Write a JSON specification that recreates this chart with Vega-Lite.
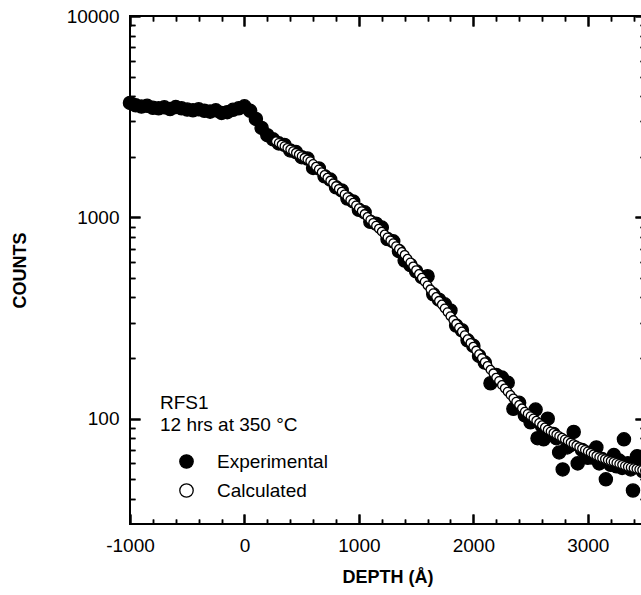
{
  "$schema": "https://vega.github.io/schema/vega-lite/v6.json",
  "autosize": {"type": "none"},
  "padding": {"left": 130, "top": 16, "right": 0, "bottom": 71},
  "width": 515,
  "height": 508,
  "background": "white",
  "config": {
    "font": "Liberation Sans",
    "view": {"stroke": "black", "strokeWidth": 2},
    "axis": {"grid": false, "domain": false, "labelColor": "black", "labelFontSize": 19, "labelFlush": false, "labelOverlap": false, "titleColor": "black"}
  },
  "datasets": {
    "profile": [
      {"series": "Experimental", "depth": -1000, "counts": 3700},
      {"series": "Experimental", "depth": -950, "counts": 3600},
      {"series": "Experimental", "depth": -900, "counts": 3550},
      {"series": "Experimental", "depth": -850, "counts": 3580},
      {"series": "Experimental", "depth": -800, "counts": 3500},
      {"series": "Experimental", "depth": -750, "counts": 3480},
      {"series": "Experimental", "depth": -700, "counts": 3520},
      {"series": "Experimental", "depth": -650, "counts": 3450},
      {"series": "Experimental", "depth": -600, "counts": 3530},
      {"series": "Experimental", "depth": -550, "counts": 3480},
      {"series": "Experimental", "depth": -500, "counts": 3430},
      {"series": "Experimental", "depth": -450, "counts": 3400},
      {"series": "Experimental", "depth": -400, "counts": 3440},
      {"series": "Experimental", "depth": -350, "counts": 3380},
      {"series": "Experimental", "depth": -300, "counts": 3350},
      {"series": "Experimental", "depth": -250, "counts": 3400},
      {"series": "Experimental", "depth": -200, "counts": 3300},
      {"series": "Experimental", "depth": -150, "counts": 3330},
      {"series": "Experimental", "depth": -100, "counts": 3420},
      {"series": "Experimental", "depth": -50, "counts": 3480},
      {"series": "Experimental", "depth": 0, "counts": 3560},
      {"series": "Experimental", "depth": 50, "counts": 3380},
      {"series": "Experimental", "depth": 100, "counts": 3080},
      {"series": "Experimental", "depth": 150, "counts": 2780},
      {"series": "Experimental", "depth": 200, "counts": 2560},
      {"series": "Experimental", "depth": 250, "counts": 2440},
      {"series": "Experimental", "depth": 300, "counts": 2330},
      {"series": "Experimental", "depth": 350, "counts": 2290},
      {"series": "Experimental", "depth": 400, "counts": 2150},
      {"series": "Experimental", "depth": 450, "counts": 2110},
      {"series": "Experimental", "depth": 500, "counts": 1990},
      {"series": "Experimental", "depth": 550, "counts": 1960},
      {"series": "Experimental", "depth": 600, "counts": 1760},
      {"series": "Experimental", "depth": 650, "counts": 1750},
      {"series": "Experimental", "depth": 700, "counts": 1600},
      {"series": "Experimental", "depth": 750, "counts": 1540},
      {"series": "Experimental", "depth": 800, "counts": 1410},
      {"series": "Experimental", "depth": 850, "counts": 1360},
      {"series": "Experimental", "depth": 900, "counts": 1240},
      {"series": "Experimental", "depth": 950, "counts": 1200},
      {"series": "Experimental", "depth": 1000, "counts": 1090},
      {"series": "Experimental", "depth": 1050, "counts": 1060},
      {"series": "Experimental", "depth": 1100, "counts": 950},
      {"series": "Experimental", "depth": 1150, "counts": 930},
      {"series": "Experimental", "depth": 1200, "counts": 890},
      {"series": "Experimental", "depth": 1250, "counts": 780},
      {"series": "Experimental", "depth": 1300, "counts": 760},
      {"series": "Experimental", "depth": 1350, "counts": 680},
      {"series": "Experimental", "depth": 1400, "counts": 610},
      {"series": "Experimental", "depth": 1450, "counts": 580},
      {"series": "Experimental", "depth": 1500, "counts": 540},
      {"series": "Experimental", "depth": 1550, "counts": 505},
      {"series": "Experimental", "depth": 1600, "counts": 510},
      {"series": "Experimental", "depth": 1650, "counts": 415},
      {"series": "Experimental", "depth": 1700, "counts": 390},
      {"series": "Experimental", "depth": 1750, "counts": 370},
      {"series": "Experimental", "depth": 1800, "counts": 345},
      {"series": "Experimental", "depth": 1850, "counts": 290},
      {"series": "Experimental", "depth": 1900, "counts": 275},
      {"series": "Experimental", "depth": 1950, "counts": 245},
      {"series": "Experimental", "depth": 2000, "counts": 230},
      {"series": "Experimental", "depth": 2050, "counts": 205},
      {"series": "Experimental", "depth": 2100, "counts": 190},
      {"series": "Experimental", "depth": 2150, "counts": 150},
      {"series": "Experimental", "depth": 2200, "counts": 165},
      {"series": "Experimental", "depth": 2250, "counts": 160},
      {"series": "Experimental", "depth": 2300, "counts": 151},
      {"series": "Experimental", "depth": 2350, "counts": 112},
      {"series": "Experimental", "depth": 2400, "counts": 120},
      {"series": "Experimental", "depth": 2450, "counts": 104},
      {"series": "Experimental", "depth": 2500, "counts": 96},
      {"series": "Experimental", "depth": 2544, "counts": 111},
      {"series": "Experimental", "depth": 2561, "counts": 80},
      {"series": "Experimental", "depth": 2600, "counts": 92},
      {"series": "Experimental", "depth": 2614, "counts": 79},
      {"series": "Experimental", "depth": 2650, "counts": 100},
      {"series": "Experimental", "depth": 2700, "counts": 84},
      {"series": "Experimental", "depth": 2725, "counts": 80},
      {"series": "Experimental", "depth": 2750, "counts": 68},
      {"series": "Experimental", "depth": 2781, "counts": 56},
      {"series": "Experimental", "depth": 2820, "counts": 72},
      {"series": "Experimental", "depth": 2850, "counts": 74},
      {"series": "Experimental", "depth": 2877, "counts": 86},
      {"series": "Experimental", "depth": 2912, "counts": 60},
      {"series": "Experimental", "depth": 2950, "counts": 70},
      {"series": "Experimental", "depth": 2975, "counts": 68},
      {"series": "Experimental", "depth": 3000, "counts": 64},
      {"series": "Experimental", "depth": 3026, "counts": 68},
      {"series": "Experimental", "depth": 3050, "counts": 64},
      {"series": "Experimental", "depth": 3075, "counts": 72},
      {"series": "Experimental", "depth": 3100, "counts": 60},
      {"series": "Experimental", "depth": 3125, "counts": 63},
      {"series": "Experimental", "depth": 3158, "counts": 50},
      {"series": "Experimental", "depth": 3200, "counts": 59},
      {"series": "Experimental", "depth": 3228, "counts": 66},
      {"series": "Experimental", "depth": 3250, "counts": 58},
      {"series": "Experimental", "depth": 3275, "counts": 62},
      {"series": "Experimental", "depth": 3300, "counts": 57},
      {"series": "Experimental", "depth": 3316, "counts": 79},
      {"series": "Experimental", "depth": 3350, "counts": 60},
      {"series": "Experimental", "depth": 3375, "counts": 56},
      {"series": "Experimental", "depth": 3395, "counts": 44},
      {"series": "Experimental", "depth": 3430, "counts": 65},
      {"series": "Experimental", "depth": 3460, "counts": 58},
      {"series": "Experimental", "depth": 3480, "counts": 55},
      {"series": "Calculated", "depth": 275, "counts": 2388},
      {"series": "Calculated", "depth": 300, "counts": 2343},
      {"series": "Calculated", "depth": 325, "counts": 2299},
      {"series": "Calculated", "depth": 350, "counts": 2256},
      {"series": "Calculated", "depth": 375, "counts": 2213},
      {"series": "Calculated", "depth": 400, "counts": 2172},
      {"series": "Calculated", "depth": 425, "counts": 2131},
      {"series": "Calculated", "depth": 450, "counts": 2091},
      {"series": "Calculated", "depth": 475, "counts": 2051},
      {"series": "Calculated", "depth": 500, "counts": 2013},
      {"series": "Calculated", "depth": 525, "counts": 1975},
      {"series": "Calculated", "depth": 550, "counts": 1938},
      {"series": "Calculated", "depth": 575, "counts": 1901},
      {"series": "Calculated", "depth": 600, "counts": 1842},
      {"series": "Calculated", "depth": 625, "counts": 1784},
      {"series": "Calculated", "depth": 650, "counts": 1729},
      {"series": "Calculated", "depth": 675, "counts": 1675},
      {"series": "Calculated", "depth": 700, "counts": 1623},
      {"series": "Calculated", "depth": 725, "counts": 1572},
      {"series": "Calculated", "depth": 750, "counts": 1523},
      {"series": "Calculated", "depth": 775, "counts": 1476},
      {"series": "Calculated", "depth": 800, "counts": 1430},
      {"series": "Calculated", "depth": 825, "counts": 1385},
      {"series": "Calculated", "depth": 850, "counts": 1342},
      {"series": "Calculated", "depth": 875, "counts": 1300},
      {"series": "Calculated", "depth": 900, "counts": 1260},
      {"series": "Calculated", "depth": 925, "counts": 1220},
      {"series": "Calculated", "depth": 950, "counts": 1182},
      {"series": "Calculated", "depth": 975, "counts": 1146},
      {"series": "Calculated", "depth": 1000, "counts": 1110},
      {"series": "Calculated", "depth": 1025, "counts": 1074},
      {"series": "Calculated", "depth": 1050, "counts": 1038},
      {"series": "Calculated", "depth": 1075, "counts": 1004},
      {"series": "Calculated", "depth": 1100, "counts": 971},
      {"series": "Calculated", "depth": 1125, "counts": 939},
      {"series": "Calculated", "depth": 1150, "counts": 909},
      {"series": "Calculated", "depth": 1175, "counts": 879},
      {"series": "Calculated", "depth": 1200, "counts": 850},
      {"series": "Calculated", "depth": 1225, "counts": 822},
      {"series": "Calculated", "depth": 1250, "counts": 795},
      {"series": "Calculated", "depth": 1275, "counts": 769},
      {"series": "Calculated", "depth": 1300, "counts": 744},
      {"series": "Calculated", "depth": 1325, "counts": 719},
      {"series": "Calculated", "depth": 1350, "counts": 696},
      {"series": "Calculated", "depth": 1375, "counts": 673},
      {"series": "Calculated", "depth": 1400, "counts": 651},
      {"series": "Calculated", "depth": 1425, "counts": 623},
      {"series": "Calculated", "depth": 1450, "counts": 597},
      {"series": "Calculated", "depth": 1475, "counts": 571},
      {"series": "Calculated", "depth": 1500, "counts": 547},
      {"series": "Calculated", "depth": 1525, "counts": 523},
      {"series": "Calculated", "depth": 1550, "counts": 501},
      {"series": "Calculated", "depth": 1575, "counts": 479},
      {"series": "Calculated", "depth": 1600, "counts": 459},
      {"series": "Calculated", "depth": 1625, "counts": 439},
      {"series": "Calculated", "depth": 1650, "counts": 420},
      {"series": "Calculated", "depth": 1675, "counts": 402},
      {"series": "Calculated", "depth": 1700, "counts": 385},
      {"series": "Calculated", "depth": 1725, "counts": 369},
      {"series": "Calculated", "depth": 1750, "counts": 353},
      {"series": "Calculated", "depth": 1775, "counts": 338},
      {"series": "Calculated", "depth": 1800, "counts": 323},
      {"series": "Calculated", "depth": 1825, "counts": 309},
      {"series": "Calculated", "depth": 1850, "counts": 296},
      {"series": "Calculated", "depth": 1875, "counts": 283},
      {"series": "Calculated", "depth": 1900, "counts": 271},
      {"series": "Calculated", "depth": 1925, "counts": 260},
      {"series": "Calculated", "depth": 1950, "counts": 248},
      {"series": "Calculated", "depth": 1975, "counts": 238},
      {"series": "Calculated", "depth": 2000, "counts": 228},
      {"series": "Calculated", "depth": 2025, "counts": 218},
      {"series": "Calculated", "depth": 2050, "counts": 209},
      {"series": "Calculated", "depth": 2075, "counts": 200},
      {"series": "Calculated", "depth": 2100, "counts": 191},
      {"series": "Calculated", "depth": 2125, "counts": 183},
      {"series": "Calculated", "depth": 2150, "counts": 175},
      {"series": "Calculated", "depth": 2175, "counts": 168},
      {"series": "Calculated", "depth": 2200, "counts": 160},
      {"series": "Calculated", "depth": 2225, "counts": 154},
      {"series": "Calculated", "depth": 2250, "counts": 147},
      {"series": "Calculated", "depth": 2275, "counts": 141.5},
      {"series": "Calculated", "depth": 2300, "counts": 136.2},
      {"series": "Calculated", "depth": 2325, "counts": 131.1},
      {"series": "Calculated", "depth": 2350, "counts": 126.2},
      {"series": "Calculated", "depth": 2375, "counts": 121.5},
      {"series": "Calculated", "depth": 2400, "counts": 117.0},
      {"series": "Calculated", "depth": 2425, "counts": 112.6},
      {"series": "Calculated", "depth": 2450, "counts": 108.4},
      {"series": "Calculated", "depth": 2475, "counts": 105.6},
      {"series": "Calculated", "depth": 2500, "counts": 102.9},
      {"series": "Calculated", "depth": 2525, "counts": 100.3},
      {"series": "Calculated", "depth": 2550, "counts": 97.7},
      {"series": "Calculated", "depth": 2575, "counts": 95.2},
      {"series": "Calculated", "depth": 2600, "counts": 92.8},
      {"series": "Calculated", "depth": 2625, "counts": 90.4},
      {"series": "Calculated", "depth": 2650, "counts": 88.1},
      {"series": "Calculated", "depth": 2675, "counts": 86.5},
      {"series": "Calculated", "depth": 2700, "counts": 84.9},
      {"series": "Calculated", "depth": 2725, "counts": 83.4},
      {"series": "Calculated", "depth": 2750, "counts": 81.9},
      {"series": "Calculated", "depth": 2775, "counts": 80.4},
      {"series": "Calculated", "depth": 2800, "counts": 78.9},
      {"series": "Calculated", "depth": 2825, "counts": 77.5},
      {"series": "Calculated", "depth": 2850, "counts": 76.1},
      {"series": "Calculated", "depth": 2875, "counts": 74.8},
      {"series": "Calculated", "depth": 2900, "counts": 73.6},
      {"series": "Calculated", "depth": 2925, "counts": 72.3},
      {"series": "Calculated", "depth": 2950, "counts": 71.1},
      {"series": "Calculated", "depth": 2975, "counts": 70.0},
      {"series": "Calculated", "depth": 3000, "counts": 68.8},
      {"series": "Calculated", "depth": 3025, "counts": 67.7},
      {"series": "Calculated", "depth": 3050, "counts": 66.5},
      {"series": "Calculated", "depth": 3075, "counts": 65.4},
      {"series": "Calculated", "depth": 3100, "counts": 64.4},
      {"series": "Calculated", "depth": 3125, "counts": 63.7},
      {"series": "Calculated", "depth": 3150, "counts": 63.0},
      {"series": "Calculated", "depth": 3175, "counts": 62.3},
      {"series": "Calculated", "depth": 3200, "counts": 61.6},
      {"series": "Calculated", "depth": 3225, "counts": 61.0},
      {"series": "Calculated", "depth": 3250, "counts": 60.3},
      {"series": "Calculated", "depth": 3275, "counts": 59.6},
      {"series": "Calculated", "depth": 3300, "counts": 59.0},
      {"series": "Calculated", "depth": 3325, "counts": 58.3},
      {"series": "Calculated", "depth": 3350, "counts": 57.7},
      {"series": "Calculated", "depth": 3375, "counts": 57.3},
      {"series": "Calculated", "depth": 3400, "counts": 56.8},
      {"series": "Calculated", "depth": 3425, "counts": 56.4},
      {"series": "Calculated", "depth": 3450, "counts": 56.0},
      {"series": "Calculated", "depth": 3475, "counts": 55.6},
      {"series": "Calculated", "depth": 3500, "counts": 55.2}
    ]
  },
  "data": {"name": "profile"},
  "resolve": {"scale": {"x": "shared", "y": "shared", "fill": "shared"}, "axis": {"x": "independent", "y": "independent"}},
  "layer": [
    {
      "transform": [{"filter": "datum.series === 'Experimental' && datum.depth < 1200"}],
      "mark": {"type": "point", "shape": "circle", "filled": true, "size": 175, "opacity": 1, "stroke": "black", "strokeWidth": 1.3},
      "encoding": {
        "x": {"field": "depth", "type": "quantitative", "scale": {"domain": [-1000, 3500], "nice": false, "zero": false},
              "axis": {"orient": "bottom", "offset": -10, "tickSize": 10, "tickWidth": 2, "tickColor": "black", "grid": true, "gridColor": "black", "gridOpacity": 1, "gridWidth": 2, "gridDash": [10, 488, 10, 3000], "values": [-1000, 0, 1000, 2000, 3000], "labelPadding": 12, "labelExpr": "datum.value + ''", "title": "DEPTH (Å)", "titleFontSize": 18, "titleFontWeight": "bold", "titlePadding": 13}},
        "y": {"field": "counts", "type": "quantitative", "scale": {"type": "log", "domain": [30, 10000], "nice": false},
              "axis": {"orient": "left", "offset": -10, "tickSize": 10, "tickWidth": 2, "tickColor": "black", "grid": true, "gridColor": "black", "gridOpacity": 1, "gridWidth": 2, "gridDash": [10, 495, 10, 3000], "values": [100, 1000, 10000], "labelPadding": 11, "labelExpr": "datum.value + ''", "title": "COUNTS", "titleFontSize": 18, "titleFontWeight": "bold", "titlePadding": 37}},
        "fill": {"field": "series", "type": "nominal", "scale": {"domain": ["Experimental", "Calculated"], "range": ["black", "white"]},
                 "legend": {"orient": "none", "legendX": 30, "legendY": 378, "title": ["RFS1", "12 hrs at 350 °C"], "titleFontSize": 19, "titleFontWeight": "normal", "titleColor": "black", "titleLineHeight": 22, "titlePadding": 17, "titleAnchor": "start", "labelFontSize": 19, "labelColor": "black", "symbolType": "circle", "symbolSize": 180, "symbolStrokeColor": "black", "symbolStrokeWidth": 1.3, "symbolOffset": 17, "labelOffset": 21, "rowPadding": 9}}
      }
    },
    {
      "transform": [{"filter": "datum.series === 'Experimental' && datum.depth >= 1200"}],
      "mark": {"type": "point", "shape": "circle", "filled": true, "size": 175, "opacity": 1, "stroke": "black", "strokeWidth": 1.3},
      "encoding": {
        "x": {"field": "depth", "type": "quantitative",
              "axis": {"orient": "top", "offset": -10, "tickSize": 10, "tickWidth": 2, "tickColor": "black", "values": [-1000, 0, 1000, 2000, 3000], "labels": false, "title": null}},
        "y": {"field": "counts", "type": "quantitative",
              "axis": {"orient": "right", "offset": -10, "tickSize": 10, "tickWidth": 2, "tickColor": "black", "values": [100, 1000, 10000], "labels": false, "title": null}},
        "fill": {"field": "series", "type": "nominal", "legend": null}
      }
    },
    {
      "transform": [{"filter": "datum.series === 'Calculated' && datum.depth < 1900"}],
      "mark": {"type": "point", "shape": "circle", "filled": true, "size": 75, "opacity": 1, "stroke": "black", "strokeWidth": 1.3},
      "encoding": {
        "x": {"field": "depth", "type": "quantitative",
              "axis": {"orient": "bottom", "offset": -5, "tickSize": 5, "tickWidth": 1.5, "tickColor": "black", "grid": true, "gridColor": "black", "gridOpacity": 1, "gridWidth": 1.5, "gridDash": [5, 498, 5, 3000], "values": [-800, -600, -400, -200, 200, 400, 600, 800, 1200, 1400, 1600, 1800, 2200, 2400, 2600, 2800, 3200, 3400], "labels": false, "title": null}},
        "y": {"field": "counts", "type": "quantitative",
              "axis": {"orient": "left", "offset": -5, "tickSize": 5, "tickWidth": 1.5, "tickColor": "black", "grid": true, "gridColor": "black", "gridOpacity": 1, "gridWidth": 1.5, "gridDash": [5, 505, 5, 3000], "values": [40, 50, 60, 70, 80, 90, 200, 300, 400, 500, 600, 700, 800, 900, 2000, 3000, 4000, 5000, 6000, 7000, 8000, 9000], "labels": false, "title": null}},
        "fill": {"field": "series", "type": "nominal", "legend": null}
      }
    },
    {
      "transform": [{"filter": "datum.series === 'Calculated' && datum.depth >= 1900"}],
      "mark": {"type": "point", "shape": "circle", "filled": true, "size": 75, "opacity": 1, "stroke": "black", "strokeWidth": 1.3},
      "encoding": {
        "x": {"field": "depth", "type": "quantitative",
              "axis": {"orient": "top", "offset": -5, "tickSize": 5, "tickWidth": 1.5, "tickColor": "black", "values": [-800, -600, -400, -200, 200, 400, 600, 800, 1200, 1400, 1600, 1800, 2200, 2400, 2600, 2800, 3200, 3400], "labels": false, "title": null}},
        "y": {"field": "counts", "type": "quantitative",
              "axis": {"orient": "right", "offset": -5, "tickSize": 5, "tickWidth": 1.5, "tickColor": "black", "values": [40, 50, 60, 70, 80, 90, 200, 300, 400, 500, 600, 700, 800, 900, 2000, 3000, 4000, 5000, 6000, 7000, 8000, 9000], "labels": false, "title": null}},
        "fill": {"field": "series", "type": "nominal", "legend": null}
      }
    }
  ]
}
